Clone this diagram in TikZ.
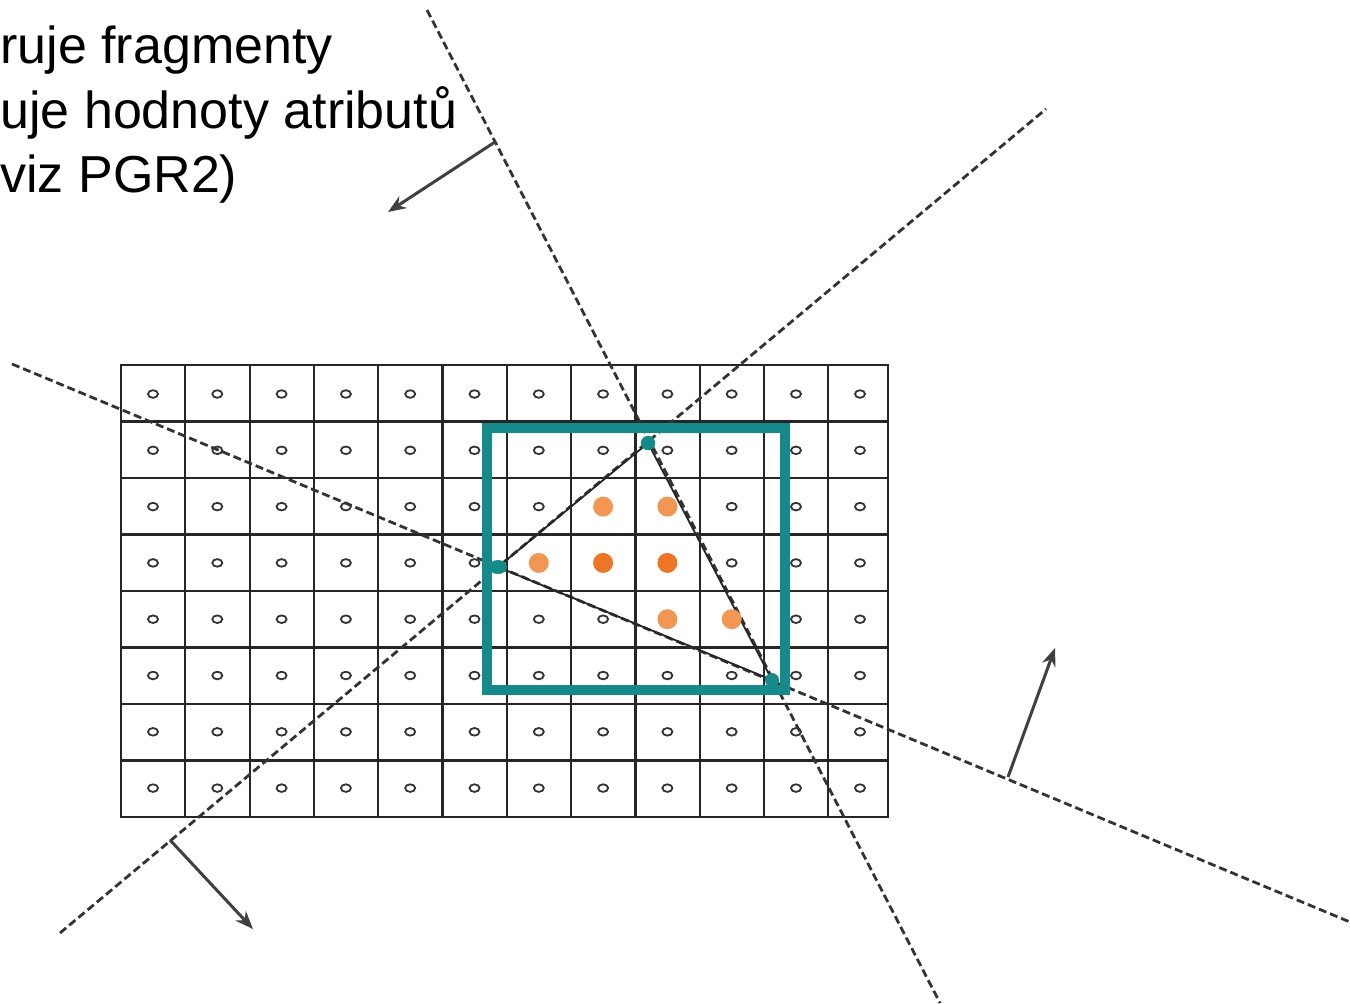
\documentclass[tikz,border=0pt]{standalone}
\usepackage{fontspec}
\setmainfont{Liberation Sans}
\usepackage{tikz}
\usetikzlibrary{arrows.meta}
\definecolor{tealbox}{RGB}{22,138,138}
\definecolor{fragA}{RGB}{236,118,38}
\definecolor{fragB}{RGB}{242,150,84}

\begin{document}
\begin{tikzpicture}[x=0.5pt,y=-0.5pt,
  cell/.style={draw=black!85,line width=1.1pt},
  sample/.style={draw=black!80,line width=0.9pt},
  edgeline/.style={draw=black!80,line width=1.4pt,dash pattern=on 4pt off 2pt},
  normal/.style={draw=black!75,line width=1.5pt,-{Stealth[length=9pt,width=7pt]}},
  bbox/.style={draw=tealbox,line width=5pt},
  tri/.style={draw=black!85,line width=0.9pt},
  vert/.style={fill=tealbox,draw=none},
  label/.style={anchor=base west,inner sep=0pt,font=\fontsize{26}{31}\selectfont}]
\useasboundingbox (0,0) rectangle (1350,1003);
\foreach \i in {1,...,11} \draw[cell] (121+64.3*\i,365) -- (121+64.3*\i,817);
\foreach \j in {1,...,7} \draw[cell] (121,365+56.5*\j) -- (888,365+56.5*\j);
\draw[cell] (121,365) rectangle (888,817);
\foreach \i in {0,...,11}
  \foreach \j in {0,...,7}
    \draw[sample] ({min(153+64.3*\i,860)},394+56.3*\j) ellipse[x radius=2.5pt,y radius=1.9pt];
\coordinate (A) at (648,443);
\coordinate (B) at (498,567);
\coordinate (C) at (772,680);
\coordinate (ab1) at (60,933);
\coordinate (ab2) at (1046,109);
\coordinate (bc1) at (12,364);
\coordinate (bc2) at (1350,922);
\coordinate (ac1) at (427,10);
\coordinate (ac2) at (940,1003);
\draw[edgeline] (ab1) -- (ab2);
\draw[edgeline] (bc1) -- (bc2);
\draw[edgeline] (ac1) -- (ac2);
\draw[bbox] (487,428) rectangle (785,690);
\draw[tri] (A) -- (B) -- (C) -- cycle;
\foreach \i/\j/\c in {7/2/fragB,8/2/fragB,6/3/fragB,7/3/fragA,8/3/fragA,8/4/fragB,9/4/fragB}
  \fill[\c] (153+64.3*\i,394+56.3*\j) circle[radius=5pt];
\fill[vert] (A) circle[radius=3.6pt];
\fill[vert] (B) ellipse[x radius=4.5pt,y radius=3.5pt];
\fill[vert] (C) circle[radius=3.5pt];
\coordinate (n1s) at (495,142);
\coordinate (n1e) at (388,212);
\coordinate (n2s) at (170,840);
\coordinate (n2e) at (253,929);
\coordinate (n3s) at (1008,777);
\coordinate (n3e) at (1055,648);
\draw[normal] (n1s) -- (n1e);
\draw[normal] (n2s) -- (n2e);
\draw[normal] (n3s) -- (n3e);
\node[label] (line1) at (0,63) {ruje fragmenty};
\node[label] (line2) at (0,128) {uje hodnoty atributů};
\node[label] (line3) at (0,192) {viz PGR2)};
\end{tikzpicture}
\end{document}
